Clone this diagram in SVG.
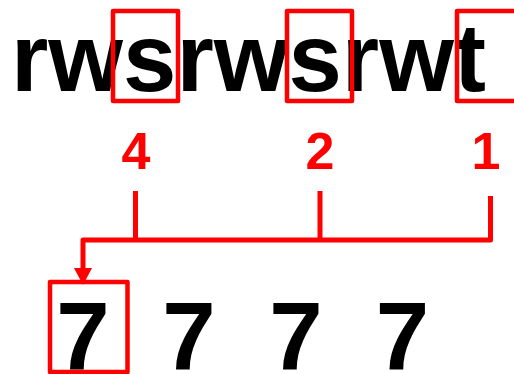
<svg xmlns="http://www.w3.org/2000/svg" width="514" height="374" viewBox="0 0 514 374">
<style>
.big{font-family:"Liberation Sans",Arial,sans-serif;font-weight:bold;font-size:96px;fill:#000}
.num{font-family:"Liberation Sans",Arial,sans-serif;font-weight:bold;font-size:52px;fill:#ff0000;text-anchor:middle}
.box{fill:none;stroke:#ff0000;stroke-width:4.5;stroke-linejoin:round}
.ln{fill:none;stroke:#ff0000;stroke-width:5;stroke-linejoin:round}
</style>
<rect width="514" height="374" fill="#fff"/>
<g id="text-top"><text class="big" x="11" y="91">rwsrwsrwt</text></g>
<g id="box-s1"><rect class="box" x="113" y="11" width="65" height="90"/></g>
<g id="box-s2"><rect class="box" x="287" y="11" width="65" height="90"/></g>
<g id="box-t"><rect class="box" x="457" y="11" width="65" height="90"/></g>
<g id="label-4"><text class="num" x="136" y="169">4</text></g>
<g id="label-2"><text class="num" x="320" y="169">2</text></g>
<g id="label-1"><text class="num" x="486" y="169">1</text></g>
<g id="connectors">
<path class="ln" d="M135.5,191 V240"/>
<path class="ln" d="M320,191 V240"/>
<path class="ln" d="M490.5,196 V240 H83 V269"/>
<polygon points="74,268 92,268 83,285" fill="#ff0000"/>
</g>
<g id="box-7"><rect class="box" x="50" y="282" width="77.5" height="90"/></g>
<g id="sevens">
<text class="big" x="83" y="370" text-anchor="middle">7</text>
<text class="big" x="189" y="370" text-anchor="middle">7</text>
<text class="big" x="296" y="370" text-anchor="middle">7</text>
<text class="big" x="402.5" y="370" text-anchor="middle">7</text>
</g>
</svg>
